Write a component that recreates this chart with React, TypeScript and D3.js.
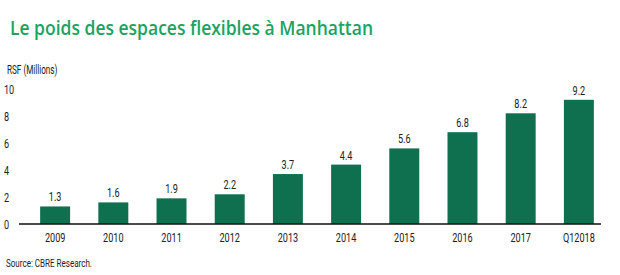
import React from "react";
import * as d3 from "d3";

const categories = ["2009", "2010", "2011", "2012", "2013", "2014", "2015", "2016", "2017", "Q12018"];
const values = [1.3, 1.6, 1.9, 2.2, 3.7, 4.4, 5.6, 6.8, 8.2, 9.2];
const yTicks = [0, 2, 4, 6, 8, 10];
const title = "Le poids des espaces flexibles à Manhattan";
const unitLabel = "RSF (Millions)";
const sourceLabel = "Source: CBRE Research.";

const W = 620;
const H = 275;
const FONT = "Roboto, 'DejaVu Sans Condensed', sans-serif";
const SX = 0.7;

function NText({ x, y, children, size = 13, anchor = "start", sx = SX, dy }: any) {
  return (
    <text
      transform={`translate(${x},${y}) scale(${sx},1)`}
      dy={dy}
      textAnchor={anchor}
      fontFamily={FONT}
      fontSize={size}
      fill="#222"
    >
      {children}
    </text>
  );
}

export default function App() {
  const x = d3.scaleBand<string>().domain(categories).range([26, 608]).paddingInner(0.485).paddingOuter(0.243).align(0.5);
  const y = d3.scaleLinear().domain([0, 10]).range([224, 89]);
  return (
    <svg width={W} height={H} style={{ position: "absolute", left: 0, top: 0, background: "#fff" }}>
      <text x={10} y={35} fontFamily="'Open Sans', Lato, sans-serif" fontWeight={600} fontSize={19.5} fill="#1aa361" textLength={363} lengthAdjust="spacingAndGlyphs">
        {title}
      </text>
      <NText x={7} y={74} size={12} sx={0.68}>{unitLabel}</NText>
      {yTicks.map((t) => (
        <NText key={t} x={4} y={y(t)} dy="0.36em">{t}</NText>
      ))}
      {categories.map((c, i) => {
        const cx = (x(c) as number) + x.bandwidth() / 2;
        return (
          <g key={c}>
            <rect x={x(c)} y={y(values[i])} width={x.bandwidth()} height={y(0) - y(values[i])} fill="#0f7050" />
            <NText x={cx} y={y(values[i]) - 5} anchor="middle">{values[i].toFixed(1)}</NText>
            <NText x={cx} y={242} anchor="middle">{c}</NText>
          </g>
        );
      })}
      <line x1={19} x2={601} y1={y(0)} y2={y(0)} stroke="#111" strokeWidth={1.5} />
      <NText x={6} y={267} size={11.5}>{sourceLabel}</NText>
    </svg>
  );
}
